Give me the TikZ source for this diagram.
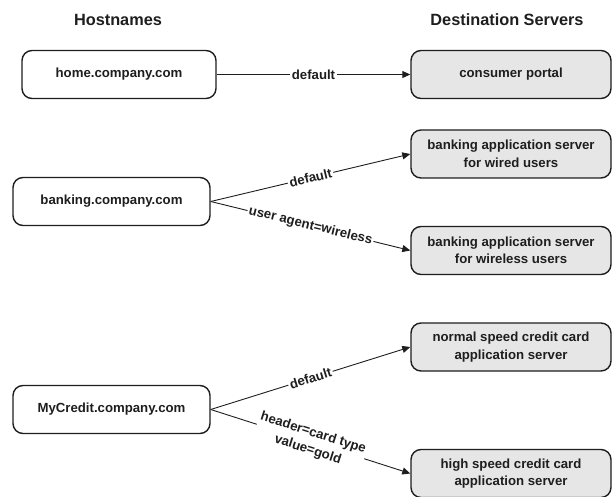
\documentclass[tikz,border=0pt]{standalone}
\usepackage{fontspec}
\setmainfont{Liberation Sans}
\usetikzlibrary{arrows.meta}
\definecolor{boxgray}{HTML}{E6E6E6}
\definecolor{ink}{HTML}{1E1E1E}
\begin{document}
\begin{tikzpicture}[x=1pt,y=-1pt,
  font=\bfseries\fontsize{13.2}{17.5}\selectfont,
  header/.style={font=\bfseries\fontsize{16.3}{18}\selectfont, text=ink},
  host/.style={draw=ink, line width=1.4pt, rounded corners=10pt, fill=white,
    minimum height=48pt, inner sep=0pt, text=ink, align=center},
  server/.style={host, fill=boxgray, minimum width=200pt},
  link/.style={draw=ink, line width=0.9pt, -{Triangle[length=8pt,width=7pt]}},
  rule/.style={fill=white, inner sep=1.5pt, text=ink, sloped, align=center}
]
\useasboundingbox (0,0) rectangle (613,497);

% column headings
\node[header] (hh) at (118,20) {Hostnames};
\node[header] (hd) at (507,20) {Destination Servers};

% hostnames
\node[host, minimum width=194pt] (home) at (119,74.5) {home.company.com};
\node[host, minimum width=197pt] (bank) at (111.5,201.5) {banking.company.com};
\node[host, minimum width=197pt] (cred) at (111.5,409.5) {MyCredit.company.com};

% destination servers
\node[server] (portal) at (511,74.5) {consumer portal};
\node[server] (wired)  at (511,154) {banking application server\\for wired users};
\node[server] (wless)  at (511,250.5) {banking application server\\for wireless users};
\node[server] (normal) at (511,347) {normal speed credit card\\application server};
\node[server] (high)   at (511,473.5) {high speed credit card\\application server};

% routing rules
\draw[link] (home.east) -- node[rule] (r1) {default} (portal.west);
\draw[link] (bank.east) -- node[rule] (r2) {default} (wired.west);
\draw[link] (bank.east) -- node[rule] (r3) {user agent=wireless} (wless.west);
\draw[link] (cred.east) -- node[rule] (r4) {default} (normal.west);
\draw[link] (cred.east) -- node[rule] (r5) {header=card type\\value=gold} (high.west);
\end{tikzpicture}
\end{document}
